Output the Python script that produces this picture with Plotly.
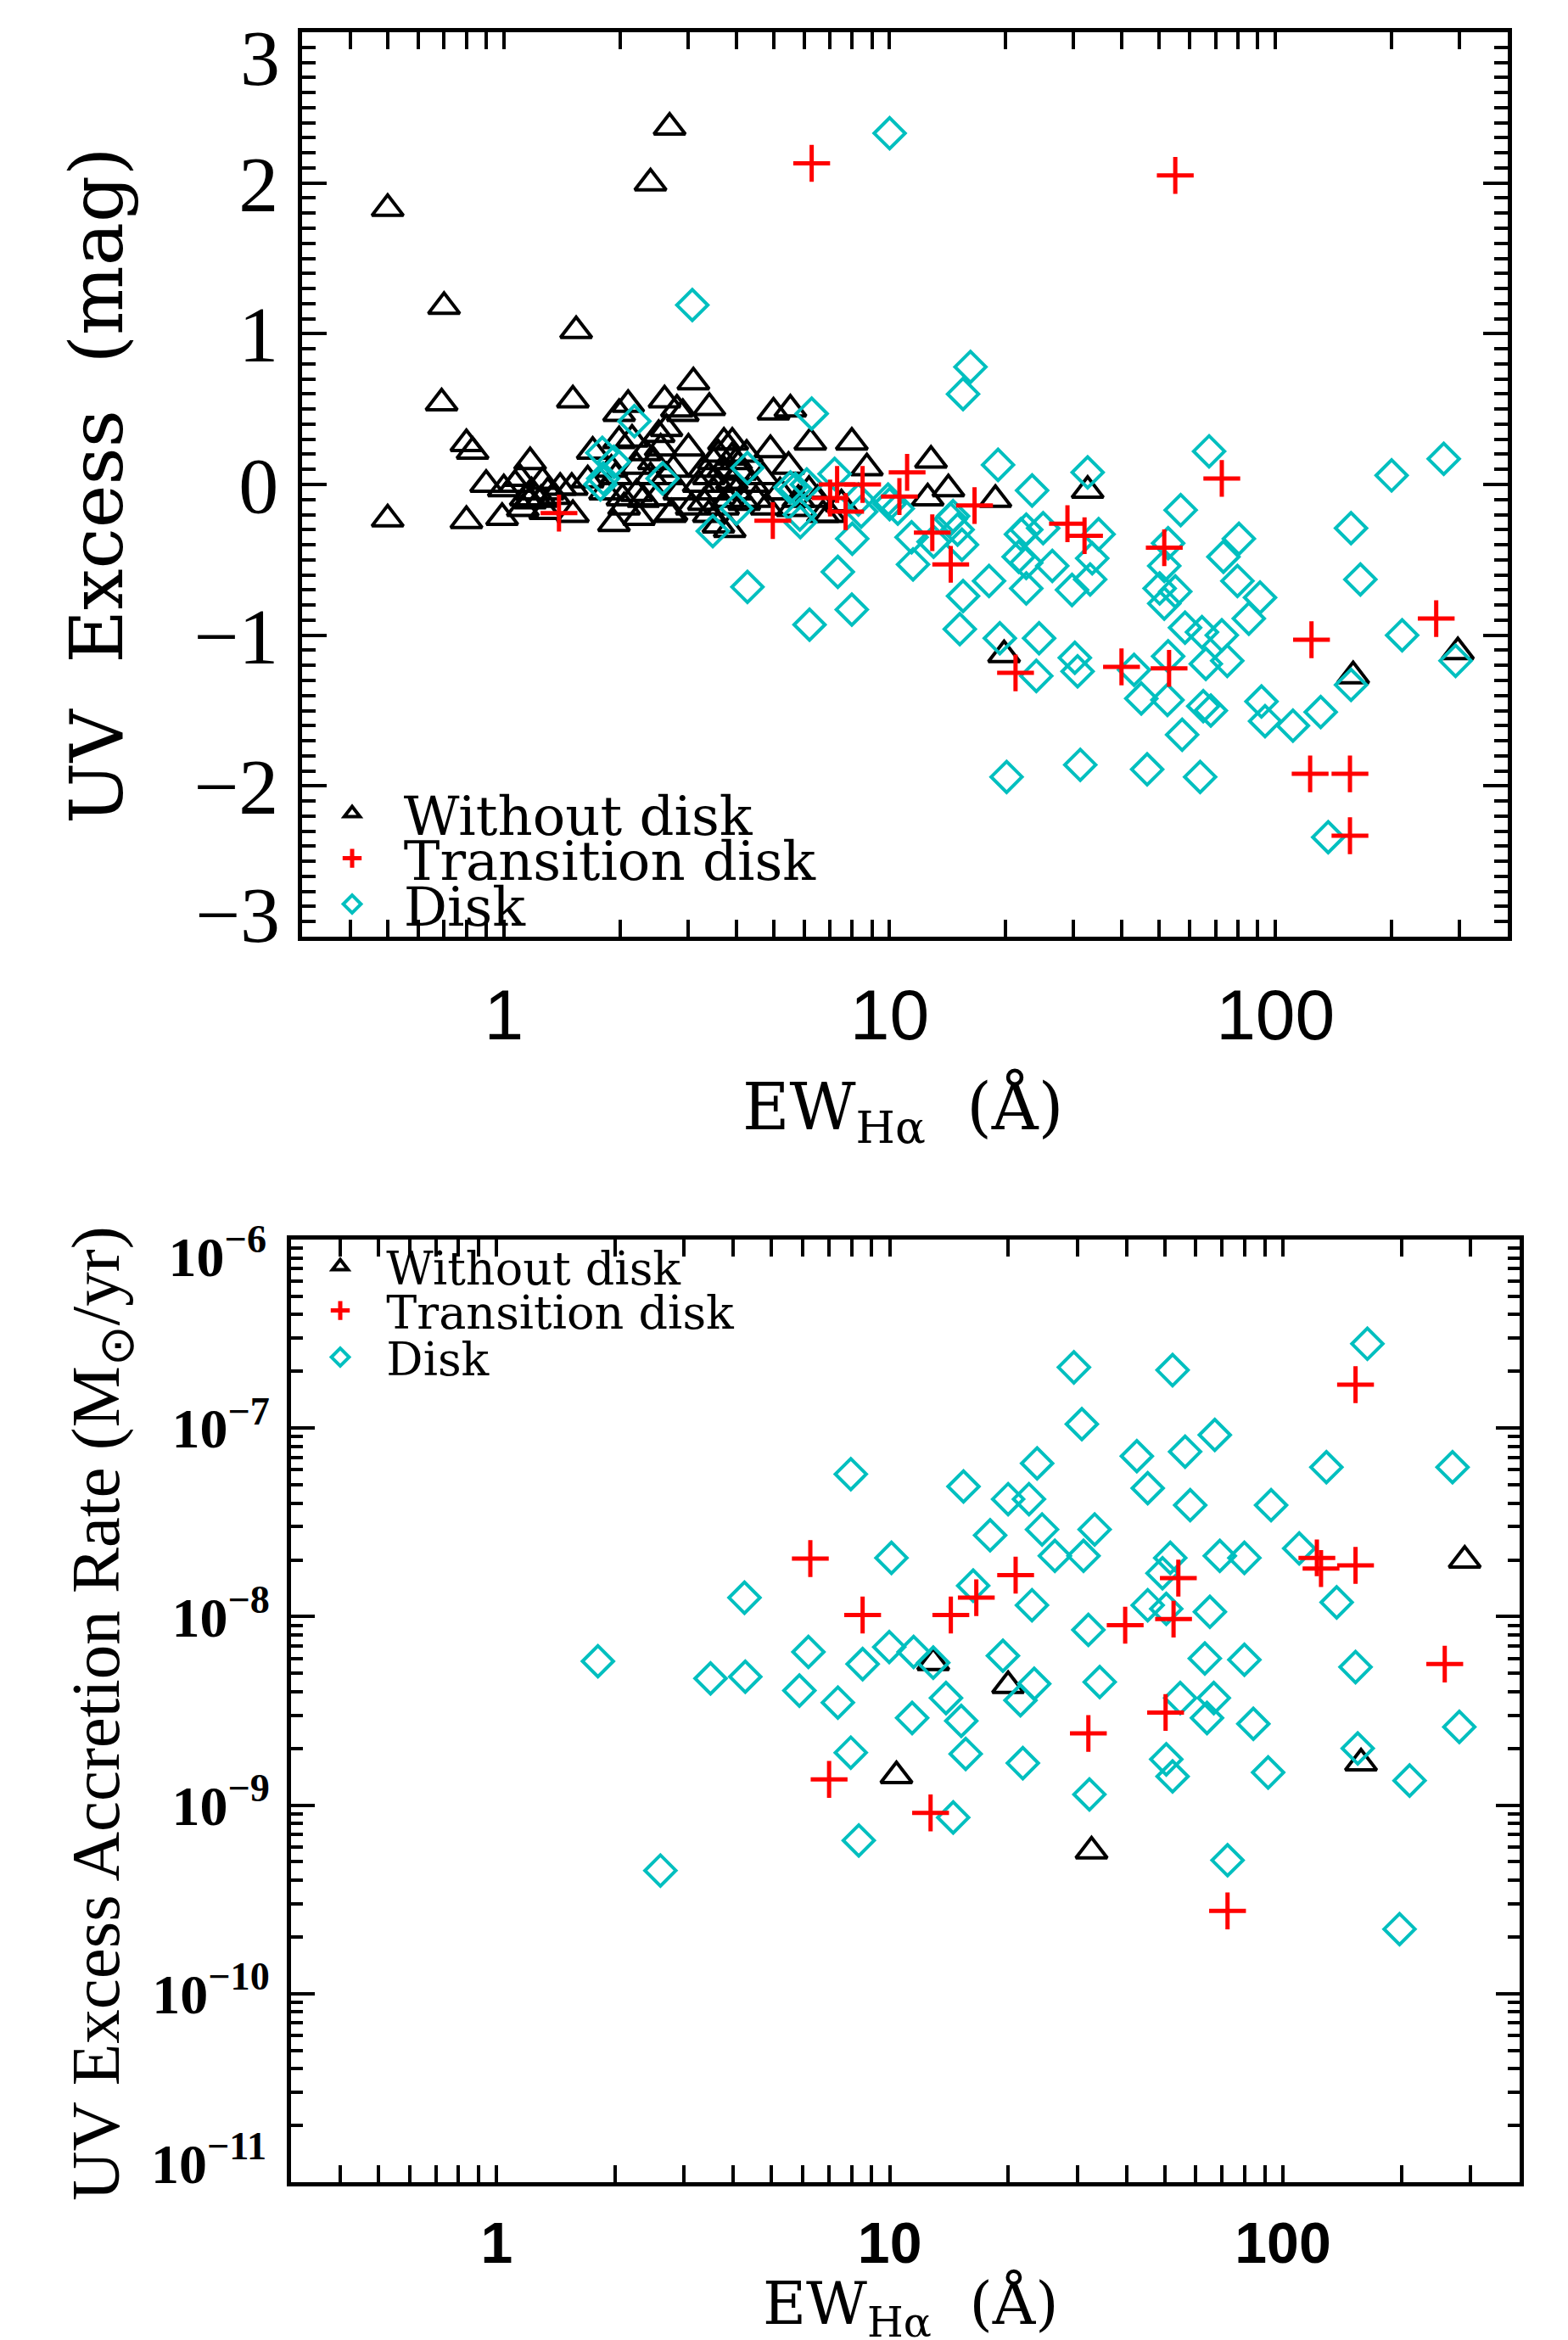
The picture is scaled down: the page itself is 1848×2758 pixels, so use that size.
import plotly.graph_objects as go

# ---------------- top panel: UV excess vs EW(Halpha) ----------------
# Without disk (black triangles)
nodisk_ew = [0.50, 0.50, 2.69, 2.40, 0.70, 1.54, 0.69, 1.51, 0.80, 0.83,
             0.90, 0.80, 0.99, 1.17, 1.00, 1.07, 1.10, 1.18, 1.26, 1.30,
             1.40, 1.50, 1.17, 1.14, 1.51, 1.70, 1.99, 2.10, 2.61, 2.81,
             1.99, 2.52, 2.55, 2.32, 1.93, 2.24, 2.70, 2.03, 2.21, 2.49,
             2.21, 2.64, 1.65, 1.83, 1.25, 1.35, 1.95, 2.05, 1.90, 2.15,
             2.30, 2.40, 2.45, 2.75, 2.85, 3.10, 3.41, 2.91, 5.00, 5.53,
             6.23, 7.98, 8.73, 12.8, 14.2, 12.55, 4.91, 5.47, 6.18, 6.72,
             3.72, 3.91, 4.26, 3.01, 2.64, 2.72, 3.07, 3.60, 3.85, 3.40,
             3.50, 3.60, 3.70, 3.80, 3.90, 4.00, 3.50, 3.30, 3.70, 4.10,
             4.20, 3.60, 3.90, 3.40, 4.00, 3.20, 3.30, 4.40, 4.50, 4.70,
             5.20, 5.80, 4.80, 6.50, 7.00, 7.50, 5.60, 18.8, 32.6, 19.8,
             297, 159, 1.12, 1.28]
nodisk_uv = [1.83, -0.23, 2.37, 2.00, 1.18, 1.02, 0.54, 0.56, 0.27, 0.22,
             0.00, -0.24, -0.22, 0.15, -0.03, 0.00, 0.04, -0.05, 0.02, -0.05,
             -0.02, -0.02, -0.11, -0.09, -0.20, 0.22, 0.47, 0.53, 0.56, 0.50,
             0.29, 0.33, 0.24, 0.21, -0.26, -0.22, -0.20, -0.09, -0.06, -0.09,
             0.12, 0.05, 0.03, -0.05, -0.10, -0.08, 0.05, -0.15, 0.10, 0.30,
             -0.10, 0.05, 0.15, 0.10, -0.05, 0.68, 0.51, 0.47, 0.48, 0.50,
             0.28, 0.28, 0.11, 0.16, -0.03, -0.09, 0.23, 0.12, -0.04, -0.20,
             0.28, 0.28, 0.20, 0.24, 0.37, -0.19, -0.15, -0.27, -0.30, 0.05,
             -0.05, 0.00, 0.10, -0.10, 0.02, -0.05, 0.15, -0.12, -0.15, 0.08,
             -0.12, 0.20, 0.18, -0.20, 0.15, 0.00, 0.10, 0.00, -0.10, 0.05,
             -0.05, -0.10, -0.15, -0.10, -0.20, -0.13, -0.16, -0.10, -0.04, -1.13,
             -1.11, -1.27, -0.16, -0.18]

# Transition disk (red crosses)
trans_ew = [1.39, 4.98, 6.28, 55.0, 7.31, 7.01, 7.69, 8.51, 11.1, 10.6,
            12.9, 14.4, 16.6, 28.9, 32.0, 51.5, 72.6, 21.2, 39.9, 53.0,
            261, 124, 123, 156, 156]
trans_uv = [-0.19, -0.24, 2.13, 2.05, 0.00, -0.09, -0.18, 0.00, 0.08, -0.08,
            -0.32, -0.53, -0.14, -0.26, -0.34, -0.42, 0.04, -1.25, -1.21, -1.22,
            -0.89, -1.03, -1.92, -1.92, -2.33]

# Disk (cyan diamonds)
disk_ew = [10.0, 3.08, 15.5, 16.2, 1.80, 1.81, 1.78, 2.18, 2.58, 3.48,
           4.01, 4.28, 4.28, 5.85, 5.70, 6.10, 6.28, 6.20, 7.34, 7.98,
           8.00, 7.20, 10.0, 8.30, 1.93, 5.53, 5.87, 8.44, 9.91, 10.5,
           11.4, 11.5, 13.0, 14.6, 15.5, 15.2, 15.0, 15.4, 19.1, 23.4,
           32.6, 67.3, 56.8, 52.7, 51.5, 50.1, 55.0, 51.5, 80.4, 73.3,
           79.7, 91.2, 85.3, 58.3, 64.5, 72.6, 66.0, 75.0, 52.7, 92.0,
           68.0, 65.0, 52.5, 44.9, 43.0, 30.2, 30.7, 24.0, 24.4, 19.3,
           18.1, 22.6, 26.4, 29.7, 33.1, 33.5, 34.8, 25.0, 21.9, 21.6,
           22.6, 22.6, 14.4, 273, 200, 157, 166, 213, 293, 157,
           131, 111, 94.0, 57.3, 63.8, 46.5, 31.2, 20.1, 137]
disk_uv = [2.33, 1.19, 0.60, 0.78, 0.21, 0.04, 0.00, 0.42, 0.04, -0.31,
           -0.16, 0.11, -0.68, -0.20, -0.03, 0.00, 0.47, -0.93, -0.58, -0.83,
           -0.36, 0.07, -0.13, -0.10, 0.15, -0.02, -0.25, -0.18, -0.10, -0.16,
           -0.35, -0.53, -0.38, -0.21, -0.74, -0.96, -0.30, -0.40, 0.13, -0.04,
           0.08, 0.22, -0.17, -0.39, -0.54, -0.69, -0.71, -0.79, -0.36, -0.48,
           -0.64, -0.75, -0.89, -0.95, -0.98, -1.00, -1.19, -1.17, -1.14, -1.44,
           -1.50, -1.47, -1.43, -1.42, -1.23, -1.15, -1.24, -1.27, -1.02, -1.02,
           -0.64, -0.69, -0.54, -0.70, -0.63, -0.49, -0.33, -0.29, -0.33, -0.48,
           -0.52, -0.30, -0.23, 0.17, 0.06, -0.29, -0.63, -1.00, -1.17, -1.33,
           -1.51, -1.60, -1.57, -1.66, -1.94, -1.89, -1.86, -1.94, -2.34]

# ---------------- bottom panel: accretion rate vs EW(Halpha) ----------------
nodisk_ew2 = [12.9, 20.0, 10.4, 32.6, 158, 290]
nodisk_mdot = [5.7e-9, 4.3e-9, 1.43e-9, 5.7e-10, 1.67e-9, 1.99e-8]

trans_ew2 = [6.28, 8.53, 7.01, 12.7, 14.3, 16.6, 20.9, 32.0, 39.7, 52.7,
             54.2, 50.3, 72.3, 122, 125, 153, 153, 258]
trans_mdot = [2.03e-8, 1.02e-8, 1.37e-9, 9.1e-10, 1.02e-8, 1.26e-8, 1.66e-8, 2.4e-9, 9.0e-9, 9.7e-9,
              1.6e-8, 3.1e-9, 2.75e-10, 2.05e-8, 1.8e-8, 1.87e-8, 1.7e-7, 5.6e-9]

disk_ew2 = [1.81, 2.61, 3.50, 4.29, 4.27, 5.89, 6.21, 7.38, 7.96, 7.96,
            8.34, 8.53, 9.97, 10.1, 11.4, 11.5, 12.9, 13.9, 14.5, 15.2,
            15.4, 15.6, 16.3, 18.0, 19.4, 20.0, 21.5, 21.8, 22.6, 23.0,
            23.3, 23.7, 24.4, 26.3, 29.4, 30.8, 31.1, 32.0, 32.2, 33.2,
            34.2, 42.5, 45.3, 45.3, 49.4, 50.5, 50.5, 51.7, 52.4, 52.4,
            54.8, 56.4, 58.1, 63.3, 64.1, 65.2, 66.7, 67.1, 69.1, 72.3,
            79.8, 79.8, 84.1, 91.7, 93.3, 110, 129, 137, 153, 155,
            164, 210, 198, 270, 281]
disk_mdot = [5.8e-9, 4.5e-10, 4.7e-9, 4.8e-9, 1.26e-8, 4.05e-9, 6.5e-9, 3.5e-9, 1.9e-9, 5.7e-8,
             6.5e-10, 5.6e-9, 6.9e-9, 2.05e-8, 2.9e-9, 6.5e-9, 5.7e-9, 3.7e-9, 8.6e-10, 2.8e-9,
             4.9e-8, 1.87e-9, 1.46e-8, 2.7e-8, 6.2e-9, 4.2e-8, 3.6e-9, 1.67e-9, 4.2e-8, 1.15e-8,
             4.4e-9, 6.5e-8, 2.9e-8, 2.1e-8, 2.1e-7, 1.05e-7, 2.1e-8, 8.5e-9, 1.14e-9, 2.9e-8,
             4.5e-9, 7.1e-8, 4.8e-8, 1.15e-8, 1.7e-8, 1.1e-8, 1.75e-9, 2.05e-8, 2.03e-7, 1.42e-9,
             3.7e-9, 7.5e-8, 3.9e-8, 6.0e-9, 2.9e-9, 1.06e-8, 3.7e-9, 9.2e-8, 2.1e-8, 5.1e-10,
             5.9e-9, 2.05e-8, 2.7e-9, 1.49e-9, 3.9e-8, 2.3e-8, 6.2e-8, 1.19e-8, 5.4e-9, 2.0e-9,
             2.8e-7, 1.35e-9, 2.2e-10, 6.2e-8, 2.6e-9]

# tick labels
uv_ticks = [-3, -2, -1, 0, 1, 2, 3]
uv_labels = ["\u22123", "\u22122", "\u22121", "0", "1", "2", "3"]
ew_ticks = [1, 10, 100]
ew_labels = ["1", "10", "100"]
mdot_ticks = [1e-11, 1e-10, 1e-9, 1e-8, 1e-7, 1e-6]
mdot_labels = ["<b>10<sup>\u2212%d</sup></b>" % n for n in (11, 10, 9, 8, 7, 6)]

BLACK = "black"
RED = "#ff0000"
CYAN = "#00bfbf"

# the page body keeps its default 8px margin, so the figure starts at (8, 8)
OFF = 8
W, H = 1848 - OFF, 2758 - OFF


def fx(px):
    return (px - OFF) / W


def fy(py):
    return 1 - (py - OFF) / H


tri = dict(symbol="triangle-up-open", size=32, color=BLACK, line=dict(width=4, color=BLACK))
crs = dict(symbol="cross-thin-open", size=31, color=RED, line=dict(width=5, color=RED))
dia = dict(symbol="diamond-open", size=28, color=CYAN, line=dict(width=4, color=CYAN))

fig = go.Figure()


def add(x, y, name, marker, xa, ya, leg, rank):
    fig.add_trace(go.Scatter(x=x, y=y, mode="markers", name="\u00a0\u00a0" + name,
                             marker=marker, xaxis=xa, yaxis=ya, legend=leg,
                             legendrank=rank, hoverinfo="skip"))


# draw order: triangles, diamonds, crosses
add(nodisk_ew, nodisk_uv, "Without disk", tri, "x", "y", "legend", 1)
add(disk_ew, disk_uv, "Disk", dia, "x", "y", "legend3", 3)
add(trans_ew, trans_uv, "Transition disk", crs, "x", "y", "legend2", 2)

add(nodisk_ew2, nodisk_mdot, "Without disk", tri, "x2", "y2", "legend4", 1)
add(disk_ew2, disk_mdot, "Disk", dia, "x2", "y2", "legend6", 3)
add(trans_ew2, trans_mdot, "Transition disk", crs, "x2", "y2", "legend5", 2)

# empty traces so the label-only overlay axes below get drawn
for xa, ya in (("x", "y3"), ("x", "y4"), ("x2", "y5"), ("x2", "y6")):
    fig.add_trace(go.Scatter(x=[], y=[], mode="markers", xaxis=xa, yaxis=ya,
                             showlegend=False, hoverinfo="skip"))

frame = dict(showline=True, linewidth=5, linecolor="black", mirror="allticks",
             ticks="inside", tickwidth=4, tickcolor="black", automargin=False,
             ticklabeloverflow="allow", showgrid=False, zeroline=False)
uv_font = dict(family="Liberation Serif", size=94, color="black")
mdot_font = dict(family="Liberation Serif", size=66, color="black")

fig.update_layout(
    width=W, height=H, autosize=False,
    margin=dict(l=0, r=0, t=0, b=0),
    paper_bgcolor="white", plot_bgcolor="white",
    xaxis=dict(frame, domain=[fx(356), fx(1777)], anchor="y", type="log",
               range=[-0.5229, 2.6021], tickvals=ew_ticks, ticktext=ew_labels,
               ticklen=20, ticklabelstandoff=15,
               tickfont=dict(family="Liberation Sans", size=84, color="black"),
               minor=dict(ticks="inside", ticklen=10, tickwidth=4, tickcolor="black", dtick="D1")),
    yaxis=dict(frame, domain=[fy(1104), fy(38)], anchor="x",
               range=[-3, 3], tickvals=uv_ticks, ticktext=[""] + uv_labels[1:-1] + [""],
               ticklen=29, ticklabelstandoff=4, tickfont=uv_font,
               minor=dict(ticks="inside", ticklen=16, tickwidth=4, tickcolor="black",
                          tickmode="linear", tick0=0, dtick=0.1)),
    xaxis2=dict(frame, domain=[fx(343), fx(1791)], anchor="y2", type="log",
                range=[-0.5229, 2.6021], tickvals=ew_ticks,
                ticktext=["<b>" + t + "</b>" for t in ew_labels],
                ticklen=20, ticklabelstandoff=8,
                tickfont=dict(family="Liberation Sans", size=68, color="black"),
                minor=dict(ticks="inside", ticklen=10, tickwidth=4, tickcolor="black", dtick="D1")),
    yaxis2=dict(frame, domain=[fy(2572), fy(1461)], anchor="x2", type="log",
                range=[-11, -6], tickvals=mdot_ticks,
                ticktext=[""] + mdot_labels[1:-1] + [""],
                ticklen=28, ticklabelstandoff=7, tickfont=mdot_font,
                minor=dict(ticks="inside", ticklen=14, tickwidth=4, tickcolor="black", dtick="D1")),
    showlegend=True,
)

# the end labels of each y axis sit inside the frame, as in the original;
# they go on label-only overlay axes so they can be nudged along the axis
end_label = dict(showline=False, ticks="inside", tickcolor="rgba(0,0,0,0)", showgrid=False,
                 zeroline=False, automargin=False, ticklabeloverflow="allow", side="left")
fig.update_layout(
    yaxis3=dict(end_label, overlaying="y", anchor="x", range=[-3, 3], ticklen=29,
                tickvals=[3], ticktext=[uv_labels[-1]], tickfont=uv_font,
                ticklabelstandoff=25, ticklabelshift=29),
    yaxis4=dict(end_label, overlaying="y", anchor="x", range=[-3, 3], ticklen=29,
                tickvals=[-3], ticktext=[uv_labels[0]], tickfont=uv_font,
                ticklabelstandoff=25, ticklabelshift=-27),
    yaxis5=dict(end_label, overlaying="y2", anchor="x2", type="log", range=[-11, -6], ticklen=28,
                tickvals=[1e-6], ticktext=[mdot_labels[-1]], tickfont=mdot_font,
                ticklabelstandoff=28, ticklabelshift=20),
    yaxis6=dict(end_label, overlaying="y2", anchor="x2", type="log", range=[-11, -6], ticklen=28,
                tickvals=[1e-11], ticktext=[mdot_labels[0]], tickfont=mdot_font,
                ticklabelstandoff=28, ticklabelshift=-22),
)

# one legend per row so the rows can sit as tight as in the original
leg_base = dict(xanchor="left", yanchor="middle", bgcolor="rgba(0,0,0,0)",
                borderwidth=0, itemclick=False, itemdoubleclick=False)
top_font = dict(family="DejaVu Serif", size=64, color="black")
bot_font = dict(family="DejaVu Serif", size=54, color="black")
fig.update_layout(
    legend=dict(leg_base, x=fx(395), y=fy(959), font=top_font),
    legend2=dict(leg_base, x=fx(395), y=fy(1012), font=top_font),
    legend3=dict(leg_base, x=fx(395), y=fy(1066), font=top_font),
    legend4=dict(leg_base, x=fx(381), y=fy(1493), font=bot_font),
    legend5=dict(leg_base, x=fx(381), y=fy(1545), font=bot_font),
    legend6=dict(leg_base, x=fx(381), y=fy(1600), font=bot_font),
)

nb = "\u00a0"
title_kw = dict(xref="paper", yref="paper", xanchor="center", yanchor="middle", showarrow=False)
fig.add_annotation(text="UV" + nb * 2 + "Excess" + nb * 2 + "(mag)", textangle=-90,
                   x=fx(114), y=fy(572), **title_kw,
                   font=dict(family="DejaVu Serif", size=86, color="black"))
fig.add_annotation(text="EW<sub>H\u03b1</sub>" + nb * 2 + "(\u00c5)",
                   x=fx(1064), y=fy(1309), **title_kw,
                   font=dict(family="DejaVu Serif", size=76, color="black"))
fig.add_annotation(text="UV Excess Accretion Rate (M<sub>\u2299</sub>/yr)", textangle=-90,
                   x=fx(118), y=fy(2020), **title_kw,
                   font=dict(family="Liberation Serif", size=81, color="black"))
fig.add_annotation(text="EW<sub>H\u03b1</sub>" + nb * 2 + "(\u00c5)",
                   x=fx(1073), y=fy(2720), **title_kw,
                   font=dict(family="DejaVu Serif", size=70, color="black"))

fig.write_html("out.html")
